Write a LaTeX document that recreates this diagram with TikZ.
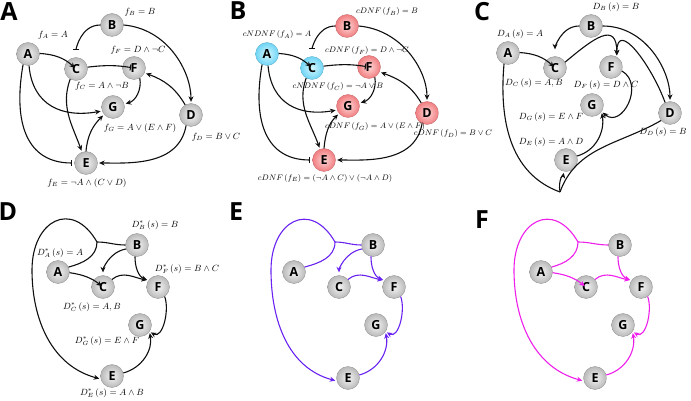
\documentclass[tikz,border=0pt]{standalone}
\usepackage{fontspec}
\usepackage{amsmath}
\usetikzlibrary{arrows.meta, positioning, calc}
\newfontfamily\ballfont{Open Sans}
\definecolor{myblack}{RGB}{15,15,15}
\definecolor{mypurple}{RGB}{105,35,240}
\definecolor{mymagenta}{RGB}{238,30,235}
\definecolor{grayin}{RGB}{245,245,245}
\definecolor{grayout}{RGB}{185,185,185}
\definecolor{cyanin}{RGB}{215,248,255}
\definecolor{cyanout}{RGB}{110,212,245}
\definecolor{redin}{RGB}{255,215,215}
\definecolor{redout}{RGB}{240,125,128}
\tikzset{
  grayball/.style={circle, inner sep=0pt, minimum size=23pt,
    shading=radial, inner color=grayin, outer color=grayout,
    draw=grayout!75!black, line width=0.3pt,
    font=\ballfont\bfseries\fontsize{12.5}{12.5}\selectfont},
  offball/.style={grayball, inner color=cyanin, outer color=cyanout, draw=cyanout!80!black},
  onball/.style={grayball, inner color=redin, outer color=redout, draw=redout!80!black},
  lbl/.style={font=\small, inner sep=0pt},
  lblsmall/.style={font=\footnotesize, inner sep=0pt},
  panel/.style={font=\ballfont\bfseries\fontsize{25}{25}\selectfont, inner sep=0pt},
  arrow/.style={-{Stealth[length=5.5pt,width=5pt]}, line width=1.1pt, color=myblack, shorten >=1.5pt},
  inhib/.style={-{Bar[width=6pt]}, line width=1.1pt, color=myblack, shorten >=2pt},
  line/.style={line width=1.1pt, color=myblack}
}

\begin{document}
\begin{tikzpicture}[x=1pt, y=1pt]
  \useasboundingbox (0,0) rectangle (691,-401);

  % panel letters
  \node[panel] (pA) at (9,-12) {A};
  \node[panel] (pB) at (238,-11) {B};
  \node[panel] (pC) at (482,-12) {C};
  \node[panel] (pD) at (8,-212) {D};
  \node[panel] (pE) at (236,-212) {E};
  \node[panel] (pF) at (482,-220) {F};

  % A: logical rules
  \begin{scope}[name prefix=a-]
    \node[grayball] (A) at (28,-54) {A};
    \node[grayball] (B) at (112,-25) {B};
    \node[grayball] (C) at (76,-69) {C};
    \node[grayball] (F) at (134,-68) {F};
    \node[grayball] (G) at (113,-107) {G};
    \node[grayball] (D) at (191,-115) {D};
    \node[grayball] (E) at (86,-163) {E};
    \node[lbl] (lA) at (53,-35) {$f_A = A$};
    \node[lbl] (lB) at (140,-12) {$f_B = B$};
    \node[lbl] (lC) at (102,-86) {$f_C = A \wedge \neg B$};
    \node[lbl] (lF) at (138,-50) {$f_F = D \wedge \neg C$};
    \node[lbl] (lG) at (140,-128) {$f_G = A \vee (E \wedge F)$};
    \node[lbl] (lD) at (216,-137) {$f_D = B \vee C$};
    \node[lbl] (lE) at (87,-183) {$f_E = \neg A \wedge (C \vee D)$};
    \draw[arrow] (A) to[bend left=20] (C);
    \draw[inhib, shorten >=7pt] (B) to[out=180,in=90] (C);
    \draw[inhib, shorten >=3pt] (C) to[bend left=8] (F);
    \draw[arrow] (F.-60) to[out=-80,in=15] (G.15);
    \draw[arrow] (D.120) to[out=120,in=-20] (F.-25);
    \draw[arrow] (B.0) to[out=-5,in=90] (D);
    \draw[arrow] (A.-85) to[out=-85,in=190,looseness=1.2] (G.200);
    \draw[inhib] (A.-115) to[out=-100,in=180,looseness=1.3] (E);
    \draw[arrow] (C.-120) to[out=-110,in=110] (E.110);
    \draw[arrow] (E.north) to[out=85,in=225] (G.220);
    \draw[arrow] (D.-115) to[out=-100,in=0] (E);
  \end{scope}

  % B: canonical forms
  \begin{scope}[shift={(236,0)}, name prefix=b-]
    \node[offball] (A) at (31,-54) {A};
    \node[onball] (B) at (111,-26) {B};
    \node[offball] (C) at (76,-68) {C};
    \node[onball] (F) at (133,-67) {F};
    \node[onball] (G) at (112,-106) {G};
    \node[onball] (D) at (191,-113) {D};
    \node[onball] (E) at (88,-160) {E};
    \node[lblsmall] (lA) at (41,-35) {$cNDNF\left(f_A\right) = A$};
    \node[lblsmall] (lB) at (151,-12) {$cDNF\left(f_B\right) = B$};
    \node[lblsmall] (lC) at (102,-87) {$cNDNF\left(f_C\right) = \neg A \vee B$};
    \node[lblsmall] (lF) at (131,-51) {$cDNF\left(f_F\right) = D \wedge \neg C$};
    \node[lblsmall] (lG) at (139,-127) {$cDNF\left(f_G\right) = A \vee (E \wedge F)$};
    \node[lblsmall] (lD) at (217,-134) {$cDNF\left(f_D\right) = B \vee C$};
    \node[lblsmall] (lE) at (89,-178) {$cDNF\left(f_E\right) = (\neg A \wedge C) \vee (\neg A \wedge D)$};
    \draw[arrow] (A) to[bend left=20] (C);
    \draw[inhib, shorten >=7pt] (B) to[out=180,in=90] (C);
    \draw[inhib, shorten >=3pt] (C) to[bend left=8] (F);
    \draw[arrow] (F.-60) to[out=-80,in=15] (G.15);
    \draw[arrow] (D.120) to[out=120,in=-20] (F.-25);
    \draw[arrow] (B.0) to[out=-5,in=90] (D);
    \draw[arrow] (A.-85) to[out=-85,in=190,looseness=1.2] (G.200);
    \draw[inhib] (A.-115) to[out=-100,in=180,looseness=1.3] (E);
    \draw[arrow] (C.-120) to[out=-110,in=110] (E.110);
    \draw[arrow] (E.north) to[out=85,in=225] (G.220);
    \draw[arrow] (D.-115) to[out=-100,in=0] (E);
  \end{scope}

  % C: driver sets
  \begin{scope}[shift={(479,0)}, name prefix=c-]
    \node[grayball] (A) at (29,-53) {A};
    \node[grayball] (B) at (112,-26) {B};
    \node[grayball] (C) at (76,-68) {C};
    \node[grayball] (F) at (132,-67) {F};
    \node[grayball] (G) at (113,-105) {G};
    \node[grayball] (D) at (191,-113) {D};
    \node[grayball] (E) at (87,-160) {E};
    \coordinate (M) at (81,-192);
    \node[lbl] (lA) at (41,-34) {$D_A\left(s\right) = A$};
    \node[lbl] (lB) at (137,-7) {$D_B\left(s\right) = B$};
    \node[lbl] (lC) at (55,-83) {$D_C\left(s\right) = A, B$};
    \node[lbl] (lF) at (127,-85) {$D_F\left(s\right) = D \wedge C$};
    \node[lbl] (lG) at (72,-117) {$D_G\left(s\right) = E \wedge F$};
    \node[lbl] (lE) at (72,-142) {$D_E\left(s\right) = A \wedge D$};
    \node[lbl] (lD) at (184,-132) {$D_D\left(s\right) = B$};
    \draw[arrow, shorten >=7pt] (B) to[out=180,in=90] (C);
    \draw[arrow] (A) to[bend left=20] (C);
    \draw[arrow] (C.30) to[out=40,in=90,looseness=1.8] (F.60);
    \draw[arrow] (D.115) to[out=110,in=90,looseness=1.5] (F.60);
    \draw[arrow] (B) to[out=0,in=90] (D);
    \draw[arrow] (F.-20) to[out=-30,in=-40,looseness=1.5] (G.-35);
    \draw[arrow] (E.20) to[out=15,in=-80] (G.-35);
    \draw[line] (A.-110) to[out=-95,in=160] (M);
    \draw[line] (D.-140) to[out=-150,in=70] (M);
    \draw[arrow] (M) to[out=100,in=-100] (E);
  \end{scope}

  % D: starred driver sets
  \begin{scope}[shift={(0,-200)}, name prefix=d-]
    \node[grayball] (A) at (58,-72) {A};
    \node[grayball] (B) at (137,-45) {B};
    \node[grayball] (C) at (103,-87) {C};
    \node[grayball] (F) at (158,-87) {F};
    \node[grayball] (G) at (140,-125) {G};
    \node[grayball] (E) at (112,-176) {E};
    \coordinate (M) at (97,-42);
    \coordinate (L) at (32,-70);
    \node[lbl] (lA) at (60,-53) {$D^{*}_{A}\left(s\right) = A$};
    \node[lbl] (lB) at (155,-25) {$D^{*}_{B}\left(s\right) = B$};
    \node[lbl] (lC) at (92,-107) {$D^{*}_{C}\left(s\right) = A, B$};
    \node[lbl] (lF) at (187,-69) {$D^{*}_{F}\left(s\right) = B \wedge C$};
    \node[lbl] (lG) at (107,-141) {$D^{*}_{G}\left(s\right) = E \wedge F$};
    \node[lbl] (lE) at (112,-193) {$D^{*}_{E}\left(s\right) = A \wedge B$};
    \draw[line] (A.25) to[out=15,in=-90] (M);
    \draw[line] (B) to[out=180,in=0] (M);
    \draw[arrow] (M) to[out=120,in=90,looseness=1.8] (L) to[out=-90,in=165] (E.195);
    \draw[arrow, shorten >=3pt] (B.200) to[out=190,in=90] (C);
    \draw[arrow] (A) to[bend left=15] (C);
    \draw[arrow] (B.-100) to[out=-90,in=160] (F.145);
    \draw[arrow] (C.40) to[out=40,in=170] (F.145);
    \draw[arrow] (F.-55) to[out=-70,in=-30] (G.-35);
    \draw[arrow] (E.15) to[out=15,in=-80] (G.-35);
  \end{scope}

  % E: purple
  \begin{scope}[shift={(236,-200)}, name prefix=e-,
      arrow/.append style={color=mypurple}, line/.append style={color=mypurple}]
    \node[grayball] (A) at (58,-72) {A};
    \node[grayball] (B) at (137,-45) {B};
    \node[grayball] (C) at (103,-87) {C};
    \node[grayball] (F) at (158,-87) {F};
    \node[grayball] (G) at (140,-125) {G};
    \node[grayball] (E) at (112,-178) {E};
    \coordinate (M) at (99,-42);
    \coordinate (L) at (35,-70);
    \draw[line] (A.25) to[out=15,in=-90] (M);
    \draw[line] (B) to[out=180,in=0] (M);
    \draw[arrow] (M) to[out=120,in=90,looseness=1.8] (L) to[out=-90,in=165] (E.195);
    \draw[arrow, shorten >=3pt] (B.200) to[out=190,in=90] (C);
    \draw[arrow] (B.-100) to[out=-90,in=160] (F.145);
    \draw[arrow] (C.40) to[out=40,in=170] (F.145);
    \draw[arrow] (F.-55) to[out=-70,in=-30] (G.-35);
    \draw[arrow] (E.15) to[out=15,in=-80] (G.-35);
  \end{scope}

  % F: magenta
  \begin{scope}[shift={(483,-200)}, name prefix=f-,
      arrow/.append style={color=mymagenta}, line/.append style={color=mymagenta}]
    \node[grayball] (A) at (58,-72) {A};
    \node[grayball] (B) at (137,-45) {B};
    \node[grayball] (C) at (103,-87) {C};
    \node[grayball] (F) at (158,-87) {F};
    \node[grayball] (G) at (140,-125) {G};
    \node[grayball] (E) at (112,-178) {E};
    \coordinate (M) at (95,-42);
    \coordinate (L) at (31,-70);
    \draw[line] (A.25) to[out=15,in=-90] (M);
    \draw[line] (B) to[out=180,in=0] (M);
    \draw[arrow] (M) to[out=120,in=90,looseness=1.8] (L) to[out=-90,in=165] (E.195);
    \draw[arrow] (A) to[bend left=15] (C);
    \draw[arrow] (B.-100) to[out=-90,in=160] (F.145);
    \draw[arrow] (C.40) to[out=40,in=170] (F.145);
    \draw[arrow] (F.-55) to[out=-70,in=-30] (G.-35);
    \draw[arrow] (E.15) to[out=15,in=-80] (G.-35);
  \end{scope}
\end{tikzpicture}
\end{document}
